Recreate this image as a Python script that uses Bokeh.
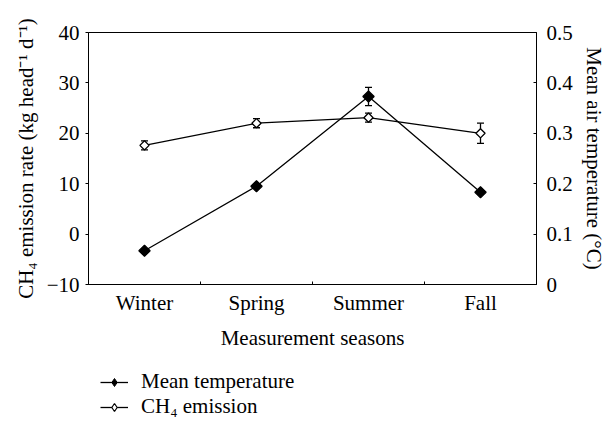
from bokeh.plotting import figure
from bokeh.layouts import column
from bokeh.models import (Range1d, LinearAxis, FixedTicker, Whisker, TeeHead,
                          ColumnDataSource, Legend, LegendItem)
from bokeh.embed import file_html
from bokeh.resources import INLINE
import math

seasons = ["Winter", "Spring", "Summer", "Fall"]
temp_mean = [0.067, 0.195, 0.373, 0.183]
temp_err = [0.004, 0.004, 0.018, 0.004]
ch4_mean = [17.6, 22.0, 23.1, 20.0]
ch4_err = [0.9, 0.9, 0.9, 2.0]
left_ticks = [-10, 0, 10, 20, 30, 40]
right_ticks = [0, 0.1, 0.2, 0.3, 0.4, 0.5]

FONT = "Liberation Serif"
FS = "21px"
ROT = math.pi / 4

xs = [i + 0.5 for i in range(len(seasons))]
src = ColumnDataSource(dict(
    x=xs, t=temp_mean,
    t_lo=[m - e for m, e in zip(temp_mean, temp_err)],
    t_hi=[m + e for m, e in zip(temp_mean, temp_err)],
    c=ch4_mean,
    c_lo=[m - e for m, e in zip(ch4_mean, ch4_err)],
    c_hi=[m + e for m, e in zip(ch4_mean, ch4_err)],
))

p = figure(width=608, height=352, output_backend="svg", toolbar_location=None,
           x_range=Range1d(0, len(seasons)), y_range=Range1d(-10, 40),
           min_border_left=88, min_border_right=67, min_border_top=32,
           min_border_bottom=68)
p.extra_y_ranges = {"temp": Range1d(0, 0.5)}
p.grid.visible = False
p.outline_line_color = "black"
p.background_fill_color = "white"
p.border_fill_color = "white"

# x axis
xa = p.xaxis[0]
xa.ticker = FixedTicker(ticks=xs, minor_ticks=[1, 2, 3])
xa.major_label_overrides = {x: s for x, s in zip(xs, seasons)}
xa.major_tick_in = 0
xa.major_tick_out = 0
xa.minor_tick_in = 3
xa.minor_tick_out = 0
xa.axis_label = "Measurement seasons"

# left axis
ya = p.yaxis[0]
ya.ticker = FixedTicker(ticks=left_ticks)
ya.major_label_overrides = {-10: "\u221210"}
ya.minor_tick_line_color = None
ya.major_tick_in = 0
ya.major_tick_out = 3
ya.axis_label = "CH\u2084 emission rate (kg head\u207b\u00b9 d\u207b\u00b9)"

# right axis
ra = LinearAxis(y_range_name="temp", ticker=FixedTicker(ticks=right_ticks),
                axis_label="Mean air temperature (\u00b0C)")
ra.major_label_overrides = {0: "0"}
ra.major_tick_in = 3
ra.major_tick_out = 0
ra.minor_tick_line_color = None
p.add_layout(ra, "right")

for ax in [xa, ya, ra]:
    ax.axis_line_color = "black"
    ax.major_tick_line_color = "black"
    ax.major_label_text_font = FONT
    ax.major_label_text_font_size = FS
    ax.major_label_text_color = "black"
    ax.axis_label_text_font = FONT
    ax.axis_label_text_font_size = FS
    ax.axis_label_text_font_style = "normal"
    ax.axis_label_text_color = "black"
xa.minor_tick_line_color = "black"
xa.major_label_standoff = 6
xa.axis_label_standoff = 8
ya.major_label_standoff = 6
ya.axis_label_standoff = 6
ra.major_label_standoff = 10
ra.axis_label_standoff = 6

# series
l1 = p.line("x", "t", source=src, y_range_name="temp", line_color="black", line_width=1.3)
m1 = p.scatter("x", "t", source=src, y_range_name="temp", marker="square", size=8,
               angle=ROT, fill_color="black", line_color="black", line_width=1.2)
l2 = p.line("x", "c", source=src, line_color="black", line_width=1.3)
m2 = p.scatter("x", "c", source=src, marker="square", size=6.5, angle=ROT,
               fill_color="white", line_color="black", line_width=1.3)

w1 = Whisker(source=src, base="x", upper="t_hi", lower="t_lo", y_range_name="temp",
             line_color="black", line_width=1.3,
             upper_head=TeeHead(size=7, line_color="black", line_width=1.3),
             lower_head=TeeHead(size=7, line_color="black", line_width=1.3))
w2 = Whisker(source=src, base="x", upper="c_hi", lower="c_lo",
             line_color="black", line_width=1.3,
             upper_head=TeeHead(size=7, line_color="black", line_width=1.3),
             lower_head=TeeHead(size=7, line_color="black", line_width=1.3))
p.add_layout(w1)
p.add_layout(w2)

# legend panel (second figure holding only the key)
q = figure(width=608, height=70, output_backend="svg", toolbar_location=None,
           x_range=Range1d(100, 101), y_range=Range1d(100, 101),
           x_axis_location=None, y_axis_location=None,
           min_border=0, outline_line_color=None)
q.grid.visible = False
ql1 = q.line("x", "t", source=src, line_color="black", line_width=1.3)
qm1 = q.scatter("x", "t", source=src, marker="diamond", size=9,
                fill_color="black", line_color="black", line_width=1.0)
ql2 = q.line("x", "c", source=src, line_color="black", line_width=1.3)
qm2 = q.scatter("x", "c", source=src, marker="diamond", size=8,
                fill_color="white", line_color="black", line_width=1.2)

legend = Legend(items=[LegendItem(label="Mean temperature", renderers=[ql1, qm1]),
                       LegendItem(label="CH\u2084 emission", renderers=[ql2, qm2])],
                location=(12, 3), orientation="vertical",
                label_text_font=FONT, label_text_font_size=FS,
                label_text_color="black",
                glyph_width=28, glyph_height=20, label_standoff=13,
                spacing=0, padding=0, margin=0,
                border_line_color=None, background_fill_alpha=0)
q.add_layout(legend, "center")

open("out.html", "w").write(file_html(column(p, q, spacing=0), INLINE))
